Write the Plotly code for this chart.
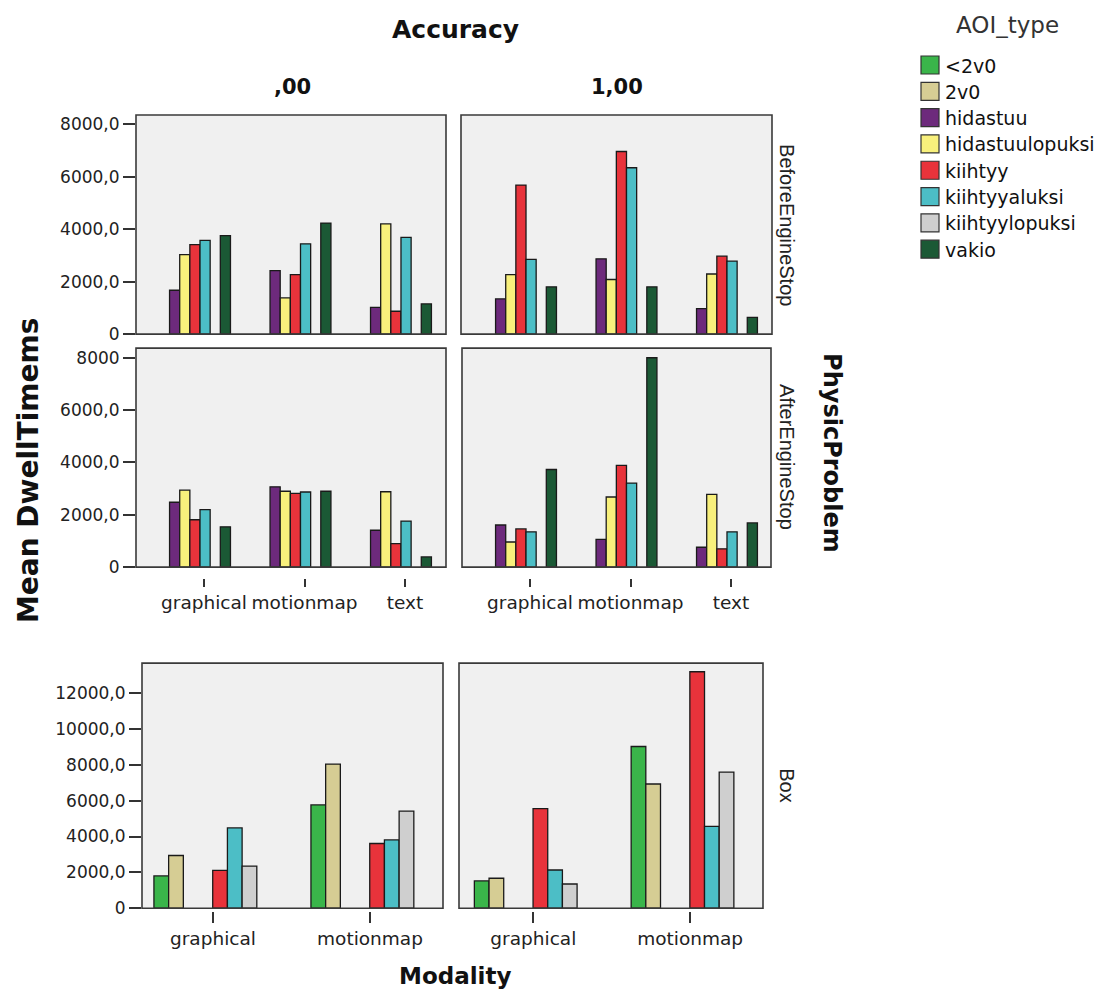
import plotly.graph_objects as go

W, H = 1101, 996

# ---------------- data ----------------
modality3 = ["graphical", "motionmap", "text"]
modality2 = ["graphical", "motionmap"]
aoi_types = ["<2v0", "2v0", "hidastuu", "hidastuulopuksi", "kiihtyy",
             "kiihtyyaluksi", "kiihtyylopuksi", "vakio"]
aoi_colors = ["#3ab54a", "#d6cd94", "#6d2a7c", "#f8f07c", "#e8333b",
              "#4cbec6", "#cfcfcf", "#1b5935"]

# PhysicProblem = BeforeEngineStop
before_acc0 = {"hidastuu": [1670, 2420, 1020], "hidastuulopuksi": [3030, 1380, 4200],
               "kiihtyy": [3410, 2270, 870], "kiihtyyaluksi": [3570, 3440, 3690],
               "vakio": [3750, 4230, 1150]}
before_acc1 = {"hidastuu": [1340, 2870, 970], "hidastuulopuksi": [2270, 2080, 2290],
               "kiihtyy": [5680, 6960, 2970], "kiihtyyaluksi": [2850, 6340, 2780],
               "vakio": [1800, 1800, 640]}
# PhysicProblem = AfterEngineStop
after_acc0 = {"hidastuu": [2480, 3070, 1410], "hidastuulopuksi": [2940, 2900, 2880],
              "kiihtyy": [1810, 2820, 900], "kiihtyyaluksi": [2200, 2870, 1760],
              "vakio": [1540, 2900, 390]}
after_acc1 = {"hidastuu": [1610, 1060, 760], "hidastuulopuksi": [960, 2680, 2780],
              "kiihtyy": [1460, 3890, 700], "kiihtyyaluksi": [1350, 3210, 1350],
              "vakio": [3730, 8000, 1690]}
# PhysicProblem = Box
box_acc0 = {"<2v0": [1800, 5760], "2v0": [2940, 8040], "kiihtyy": [2110, 3610],
            "kiihtyyaluksi": [4480, 3810], "kiihtyylopuksi": [2350, 5410]}
box_acc1 = {"<2v0": [1520, 9020], "2v0": [1670, 6930], "kiihtyy": [5560, 13190],
            "kiihtyyaluksi": [2130, 4570], "kiihtyylopuksi": [1350, 7590]}

ticks_top = [0, 2000, 4000, 6000, 8000]
ticktext_top = ["0", "2000,0", "4000,0", "6000,0", "8000,0"]
ticktext_mid = ["0", "2000,0", "4000,0", "6000,0", "8000"]
ticks_box = [0, 2000, 4000, 6000, 8000, 10000, 12000]
ticktext_box = ["0", "2000,0", "4000,0", "6000,0", "8000,0", "10000,0", "12000,0"]

# ---------------- layout helpers ----------------
VK = 1.0114  # vertical correction for the capture

def fx(x):
    return x / W

def fy(y):
    return 1 - (y * VK) / H

FONT = "DejaVu Sans, Arial, sans-serif"
STRIP = "Liberation Sans, Arial, sans-serif"

# panels: (name, data, categories, x px domain, y px domain, xrange, yrange, kind)
panels = [
    ("1", before_acc0, modality3, (136, 446), (114, 333), [-0.677, 2.408], [0, 8350], "top"),
    ("2", before_acc1, modality3, (461, 772), (114, 333), [-0.687, 2.408], [0, 8350], "top"),
    ("3", after_acc0, modality3, (136, 446), (347, 566), [-0.677, 2.408], [0, 8370], "mid"),
    ("4", after_acc1, modality3, (462, 771), (347, 566), [-0.677, 2.398], [0, 8370], "mid"),
    ("5", box_acc0, modality2, (142, 443), (662, 907), [-0.452, 1.465], [0, 13670], "box"),
    ("6", box_acc1, modality2, (459, 763), (662, 907), [-0.474, 1.465], [0, 13670], "box"),
]

fig = go.Figure()
layout = dict(
    width=W, height=H, autosize=False,
    margin=dict(l=0, r=0, t=0, b=0),
    paper_bgcolor="white", plot_bgcolor="#f0f0f0",
    barmode="overlay", showlegend=False,
    font=dict(family=FONT, size=16, color="#222"),
)
shapes = []

for name, data, cats, (x0, x1), (y0, y1), xr, yr, kind in panels:
    xa = "x" + ("" if name == "1" else name)
    ya = "y" + ("" if name == "1" else name)
    if kind == "box":
        w, start = 0.0936, -0.376
    else:
        w, start = 0.101, -0.343
    for aoi, vals in data.items():
        idx = aoi_types.index(aoi)
        slot = idx if kind == "box" else idx - 2
        fig.add_trace(go.Bar(
            x=cats, y=vals, name=aoi, xaxis=xa, yaxis=ya,
            offset=start + slot * w, width=w,
            marker=dict(color=aoi_colors[idx], line=dict(color="#1a1a1a", width=1.3)),
        ))
    left = name in ("1", "3", "5")
    xkey = "xaxis" + ("" if name == "1" else name)
    ykey = "yaxis" + ("" if name == "1" else name)
    xax = dict(domain=[fx(x0), fx(x1)], range=xr, type="category",
               showgrid=False, zeroline=False, showline=False, fixedrange=True,
               tickfont=dict(family=FONT, size=18.5, color="#222"))
    if kind == "top":
        xax.update(showticklabels=False, ticks="", anchor=ya)
    elif kind == "mid":
        xax.update(anchor="free", position=fy(577), ticks="outside", ticklen=8,
                   tickwidth=2, tickcolor="#333")
    else:
        xax.update(anchor="free", position=fy(910), ticks="outside", ticklen=11,
                   tickwidth=2, tickcolor="#333")
    if kind == "top":
        tv, tt = ticks_top, ticktext_top
    elif kind == "mid":
        tv, tt = ticks_top, ticktext_mid
    else:
        tv, tt = ticks_box, ticktext_box
    yax = dict(domain=[fy(y1), fy(y0)], range=yr, anchor=xa,
               showgrid=False, zeroline=False, showline=False, fixedrange=True)
    if left:
        yax.update(tickvals=tv, ticktext=tt, ticks="outside", ticklen=12, tickwidth=2,
                   tickcolor="#333", tickfont=dict(family=FONT, size=17, color="#222"))
    else:
        yax.update(showticklabels=False, ticks="")
    layout[xkey] = xax
    layout[ykey] = yax
    shapes.append(dict(type="rect", xref=xa + " domain", yref=ya + " domain",
                       x0=0, x1=1, y0=0, y1=1, line=dict(color="#3a3a3a", width=1.6),
                       fillcolor="rgba(0,0,0,0)", layer="above"))

annotations = []

def txt(text, x, y, size, angle=0, family=FONT, bold=False, color="#111", xanchor="center"):
    annotations.append(dict(text=("<b>%s</b>" % text) if bold else text,
                            x=fx(x), y=fy(y), xref="paper", yref="paper",
                            showarrow=False, textangle=angle, xanchor=xanchor,
                            yanchor="middle", font=dict(family=family, size=size, color=color)))

txt("Accuracy", 455, 28, 25, bold=True)
txt(",00", 292, 86, 21, bold=True)
txt("1,00", 617, 86, 21, bold=True)
txt("Mean DwellTimems", 28, 470, 28, angle=-90, bold=True)
txt("PhysicProblem", 832, 452, 24, angle=90, bold=True)
txt("Modality", 455, 975, 23, bold=True)
txt("BeforeEngineStop", 787, 224, 20, angle=90, family=STRIP, color="#222")
txt("AfterEngineStop", 787, 456, 20, angle=90, family=STRIP, color="#222")
txt("Box", 787, 784, 20, angle=90, family=STRIP, color="#222")

# legend (AOI_type)
txt("AOI_type", 1007, 24, 23, color="#333")
row0, step = 55, 26.3
for i, (aoi, col) in enumerate(zip(aoi_types, aoi_colors)):
    top = row0 + i * step
    shapes.append(dict(type="rect", xref="paper", yref="paper",
                       x0=fx(921), x1=fx(939), y0=fy(top + 18), y1=fy(top),
                       fillcolor=col, line=dict(color="#333", width=1.2)))
    txt(aoi, 943, top + 9.5, 19, xanchor="left", color="#111")

layout["shapes"] = shapes
layout["annotations"] = annotations
fig.update_layout(**layout)
fig.write_html("out.html", config={"displayModeBar": False},
               post_script="document.body.style.margin='0px';document.body.style.overflow='hidden';")
